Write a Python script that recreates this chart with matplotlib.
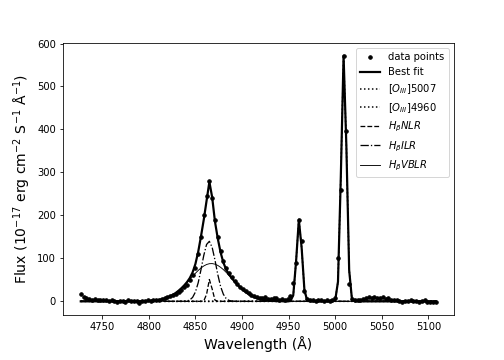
#! /usr/bin/env python3
# coding: utf-8

import numpy as np
import matplotlib
matplotlib.use('Agg')
import matplotlib.pyplot as plt

WAVE_START = 4727.
WAVE_STEP = 3.

# observed flux, one value every WAVE_STEP angstrom
flux = [17, 9, 7, 6, 4, 5, 3, 4, 2, 3,
        1, 2, 0, -1, 1, 0, -1, 2, 1, 0,
        1, -3, 1, 0, 2, 1, 3, 2, 4, 5,
        7, 9, 13, 15, 18, 22, 27, 33, 38, 50,
        62, 78, 110, 150, 200, 245, 279, 240, 190, 150,
        118, 95, 78, 66, 56, 47, 40, 34, 28, 24,
        19, 15, 12, 10, 8, 7, 9, 6, 5, 8,
        7, 4, 6, 3, 5, 12, 43, 89, 190, 141,
        23, 5, 3, 2, 1, 3, 2, 1, 2, 0,
        3, 8, 100, 258, 572, 397, 40, 6, 3, 2,
        4, 6, 8, 9, 8, 9, 7, 8, 9, 6,
        7, 4, 3, 2, 1, -1, 0, 1, 2, 0,
        1, -1, 0, 2, -1, -2, -1, -2]

# fitted gaussian components: (amplitude, centre, sigma)
OIII_5007 = (575., 5009.3, 2.8)
OIII_4960 = (192., 4961.4, 2.8)
HB_NLR = (52., 4865.5, 2.3)
HB_ILR = (140., 4864.5, 7.5)
HB_VBLR = (88., 4867., 22.)


def gauss(x, params):
    amp, centre, sigma = params
    return amp * np.exp(-(x - centre) ** 2 / (2 * sigma ** 2))


wave = WAVE_START + WAVE_STEP * np.arange(len(flux))
o5007 = gauss(wave, OIII_5007)
o4960 = gauss(wave, OIII_4960)
nlr = gauss(wave, HB_NLR)
ilr = gauss(wave, HB_ILR)
vblr = gauss(wave, HB_VBLR)
best = o5007 + o4960 + nlr + ilr + vblr

fig = plt.figure(figsize=(7, 5), dpi=72)
plt.subplots_adjust(bottom=0.125)
plt.plot(wave, flux, 'k.', ms=7, label='data points')
plt.plot(wave, best, 'k-', lw=2.2, label='Best fit')
plt.plot(wave, o5007, 'k:', lw=1.5, label=r'$[O_{III}]$5007')
plt.plot(wave, o4960, 'k:', lw=1.5, label=r'$[O_{III}]$4960')
plt.plot(wave, nlr, 'k--', lw=1.3, label=r'$H_{\beta} NLR$')
plt.plot(wave, ilr, 'k-.', lw=1.3, label=r'$H_{\beta} ILR$')
plt.plot(wave, vblr, 'k-', lw=0.9, label=r'$H_{\beta} VBLR$')
plt.xlabel('Wavelength (Å)', fontsize=14)
plt.ylabel(r'Flux ($10^{-17}$ erg cm$^{-2}$ S$^{-1}$ Å$^{-1}$)', fontsize=14)
plt.legend(loc='upper right')
plt.savefig('out.png', dpi=72)
